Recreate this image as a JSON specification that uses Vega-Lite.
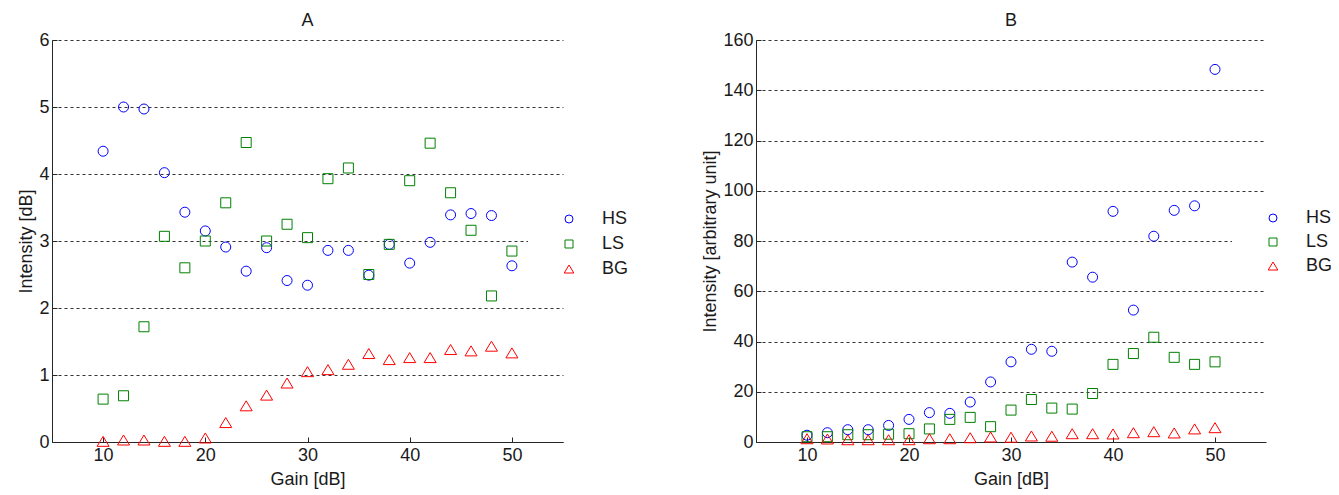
{
"$schema": "https://vega.github.io/schema/vega-lite/v6.json",
"padding": {"left": 17, "top": 12, "right": 5, "bottom": 5},
"background": "white",
"config": {
  "font": "Liberation Sans",
  "view": {"stroke": null},
  "axis": {"labelFontSize": 18, "titleFontSize": 18, "labelColor": "#1a1a1a", "titleColor": "#1a1a1a", "titleFontWeight": "normal", "domainColor": "#262626", "tickColor": "#262626", "tickSize": -5, "grid": false},
  "axisX": {"labelPadding": 9, "titlePadding": 6},
  "axisY": {"labelPadding": 8, "titlePadding": 3},
  "title": {"fontSize": 18, "fontWeight": "normal", "color": "#1a1a1a", "offset": 1},
  "legend": {"fillColor": "white", "padding": 8, "symbolOffset": 24, "labelOffset": 24, "labelFontSize": 18, "labelColor": "#1a1a1a", "symbolSize": 64, "rowPadding": 7, "symbolStrokeWidth": 1}
},
"datasets": {"d": [
{"p":"A","g":10,"s":"HS","v":4.34},{"p":"A","g":12,"s":"HS","v":5.00},{"p":"A","g":14,"s":"HS","v":4.97},{"p":"A","g":16,"s":"HS","v":4.02},{"p":"A","g":18,"s":"HS","v":3.43},{"p":"A","g":20,"s":"HS","v":3.15},{"p":"A","g":22,"s":"HS","v":2.91},{"p":"A","g":24,"s":"HS","v":2.55},{"p":"A","g":26,"s":"HS","v":2.90},{"p":"A","g":28,"s":"HS","v":2.41},{"p":"A","g":30,"s":"HS","v":2.34},{"p":"A","g":32,"s":"HS","v":2.86},{"p":"A","g":34,"s":"HS","v":2.86},{"p":"A","g":36,"s":"HS","v":2.49},{"p":"A","g":38,"s":"HS","v":2.95},{"p":"A","g":40,"s":"HS","v":2.67},{"p":"A","g":42,"s":"HS","v":2.98},{"p":"A","g":44,"s":"HS","v":3.39},{"p":"A","g":46,"s":"HS","v":3.41},{"p":"A","g":48,"s":"HS","v":3.38},{"p":"A","g":50,"s":"HS","v":2.63},
{"p":"A","g":10,"s":"LS","v":0.64},{"p":"A","g":12,"s":"LS","v":0.69},{"p":"A","g":14,"s":"LS","v":1.72},{"p":"A","g":16,"s":"LS","v":3.07},{"p":"A","g":18,"s":"LS","v":2.60},{"p":"A","g":20,"s":"LS","v":3.00},{"p":"A","g":22,"s":"LS","v":3.57},{"p":"A","g":24,"s":"LS","v":4.47},{"p":"A","g":26,"s":"LS","v":3.00},{"p":"A","g":28,"s":"LS","v":3.25},{"p":"A","g":30,"s":"LS","v":3.05},{"p":"A","g":32,"s":"LS","v":3.93},{"p":"A","g":34,"s":"LS","v":4.09},{"p":"A","g":36,"s":"LS","v":2.50},{"p":"A","g":38,"s":"LS","v":2.95},{"p":"A","g":40,"s":"LS","v":3.90},{"p":"A","g":42,"s":"LS","v":4.46},{"p":"A","g":44,"s":"LS","v":3.72},{"p":"A","g":46,"s":"LS","v":3.16},{"p":"A","g":48,"s":"LS","v":2.18},{"p":"A","g":50,"s":"LS","v":2.85},
{"p":"A","g":10,"s":"BG","v":0.01},{"p":"A","g":12,"s":"BG","v":0.03},{"p":"A","g":14,"s":"BG","v":0.03},{"p":"A","g":16,"s":"BG","v":0.01},{"p":"A","g":18,"s":"BG","v":0.01},{"p":"A","g":20,"s":"BG","v":0.06},{"p":"A","g":22,"s":"BG","v":0.29},{"p":"A","g":24,"s":"BG","v":0.54},{"p":"A","g":26,"s":"BG","v":0.70},{"p":"A","g":28,"s":"BG","v":0.88},{"p":"A","g":30,"s":"BG","v":1.05},{"p":"A","g":32,"s":"BG","v":1.08},{"p":"A","g":34,"s":"BG","v":1.16},{"p":"A","g":36,"s":"BG","v":1.32},{"p":"A","g":38,"s":"BG","v":1.23},{"p":"A","g":40,"s":"BG","v":1.26},{"p":"A","g":42,"s":"BG","v":1.26},{"p":"A","g":44,"s":"BG","v":1.38},{"p":"A","g":46,"s":"BG","v":1.36},{"p":"A","g":48,"s":"BG","v":1.43},{"p":"A","g":50,"s":"BG","v":1.33},
{"p":"B","g":10,"s":"HS","v":2.7},{"p":"B","g":12,"s":"HS","v":3.7},{"p":"B","g":14,"s":"HS","v":4.9},{"p":"B","g":16,"s":"HS","v":4.9},{"p":"B","g":18,"s":"HS","v":6.6},{"p":"B","g":20,"s":"HS","v":9.0},{"p":"B","g":22,"s":"HS","v":11.7},{"p":"B","g":24,"s":"HS","v":11.4},{"p":"B","g":26,"s":"HS","v":15.9},{"p":"B","g":28,"s":"HS","v":23.9},{"p":"B","g":30,"s":"HS","v":31.9},{"p":"B","g":32,"s":"HS","v":36.9},{"p":"B","g":34,"s":"HS","v":36.1},{"p":"B","g":36,"s":"HS","v":71.6},{"p":"B","g":38,"s":"HS","v":65.6},{"p":"B","g":40,"s":"HS","v":91.8},{"p":"B","g":42,"s":"HS","v":52.5},{"p":"B","g":44,"s":"HS","v":81.9},{"p":"B","g":46,"s":"HS","v":92.2},{"p":"B","g":48,"s":"HS","v":94.0},{"p":"B","g":50,"s":"HS","v":148.3},
{"p":"B","g":10,"s":"LS","v":2.1},{"p":"B","g":12,"s":"LS","v":2.1},{"p":"B","g":14,"s":"LS","v":2.9},{"p":"B","g":16,"s":"LS","v":2.9},{"p":"B","g":18,"s":"LS","v":3.1},{"p":"B","g":20,"s":"LS","v":3.3},{"p":"B","g":22,"s":"LS","v":5.2},{"p":"B","g":24,"s":"LS","v":9.0},{"p":"B","g":26,"s":"LS","v":9.8},{"p":"B","g":28,"s":"LS","v":6.1},{"p":"B","g":30,"s":"LS","v":12.7},{"p":"B","g":32,"s":"LS","v":16.9},{"p":"B","g":34,"s":"LS","v":13.5},{"p":"B","g":36,"s":"LS","v":13.1},{"p":"B","g":38,"s":"LS","v":19.3},{"p":"B","g":40,"s":"LS","v":30.9},{"p":"B","g":42,"s":"LS","v":35.2},{"p":"B","g":44,"s":"LS","v":41.7},{"p":"B","g":46,"s":"LS","v":33.7},{"p":"B","g":48,"s":"LS","v":30.9},{"p":"B","g":50,"s":"LS","v":31.9},
{"p":"B","g":10,"s":"BG","v":1.3},{"p":"B","g":12,"s":"BG","v":1.2},{"p":"B","g":14,"s":"BG","v":0.9},{"p":"B","g":16,"s":"BG","v":0.9},{"p":"B","g":18,"s":"BG","v":0.9},{"p":"B","g":20,"s":"BG","v":0.9},{"p":"B","g":22,"s":"BG","v":1.3},{"p":"B","g":24,"s":"BG","v":1.3},{"p":"B","g":26,"s":"BG","v":1.7},{"p":"B","g":28,"s":"BG","v":2.0},{"p":"B","g":30,"s":"BG","v":1.9},{"p":"B","g":32,"s":"BG","v":2.4},{"p":"B","g":34,"s":"BG","v":2.3},{"p":"B","g":36,"s":"BG","v":3.3},{"p":"B","g":38,"s":"BG","v":3.3},{"p":"B","g":40,"s":"BG","v":3.2},{"p":"B","g":42,"s":"BG","v":3.7},{"p":"B","g":44,"s":"BG","v":4.1},{"p":"B","g":46,"s":"BG","v":3.6},{"p":"B","g":48,"s":"BG","v":5.2},{"p":"B","g":50,"s":"BG","v":5.7}
]},
"spacing": 193,
"bounds": "flush",
"resolve": {"scale": {"color": "independent", "shape": "independent"}, "legend": {"color": "independent", "shape": "independent"}},
"hconcat": [
 {
  "width": 511, "height": 402,
  "title": {"text": "A"},
  "data": {"name": "d"},
  "transform": [{"filter": "datum.p === 'A'"}],
  "mark": {"type": "point", "filled": false, "size": 100, "strokeWidth": 1, "opacity": 1},
  "encoding": {
    "x": {"field": "g", "type": "quantitative", "scale": {"domain": [5, 55], "nice": false, "zero": false}, "axis": {"title": "Gain [dB]", "values": [10, 20, 30, 40, 50]}},
    "y": {"field": "v", "type": "quantitative", "scale": {"domain": [0, 6], "nice": false}, "axis": {"title": "Intensity [dB]", "values": [0, 1, 2, 3, 4, 5, 6], "grid": true, "gridDash": [3, 3], "gridColor": "#333333"}},
    "color": {"field": "s", "type": "nominal", "scale": {"domain": ["HS", "LS", "BG"], "range": ["#0000ff", "#008000", "#ff0000"]}, "legend": {"title": null, "orient": "none", "legendX": 476, "legendY": 162}},
    "shape": {"field": "s", "type": "nominal", "scale": {"domain": ["HS", "LS", "BG"], "range": ["circle", "square", "M0,-1L-1.2,1L1.2,1Z"]}, "legend": {"title": null, "orient": "none", "legendX": 476, "legendY": 162}}
  }
 },
 {
  "width": 510, "height": 402,
  "title": {"text": "B"},
  "data": {"name": "d"},
  "transform": [{"filter": "datum.p === 'B'"}],
  "mark": {"type": "point", "filled": false, "size": 100, "strokeWidth": 1, "opacity": 1},
  "encoding": {
    "x": {"field": "g", "type": "quantitative", "scale": {"domain": [5, 55], "nice": false, "zero": false}, "axis": {"title": "Gain [dB]", "values": [10, 20, 30, 40, 50]}},
    "y": {"field": "v", "type": "quantitative", "scale": {"domain": [0, 160], "nice": false}, "axis": {"title": "Intensity [arbitrary unit]", "values": [0, 20, 40, 60, 80, 100, 120, 140, 160], "grid": true, "gridDash": [3, 3], "gridColor": "#333333"}},
    "color": {"field": "s", "type": "nominal", "scale": {"domain": ["HS", "LS", "BG"], "range": ["#0000ff", "#008000", "#ff0000"]}, "legend": {"title": null, "orient": "none", "legendX": 476, "legendY": 161, "rowPadding": 6}},
    "shape": {"field": "s", "type": "nominal", "scale": {"domain": ["HS", "LS", "BG"], "range": ["circle", "square", "M0,-1L-1.2,1L1.2,1Z"]}, "legend": {"title": null, "orient": "none", "legendX": 476, "legendY": 161, "rowPadding": 6}}
  }
 }
]
}
